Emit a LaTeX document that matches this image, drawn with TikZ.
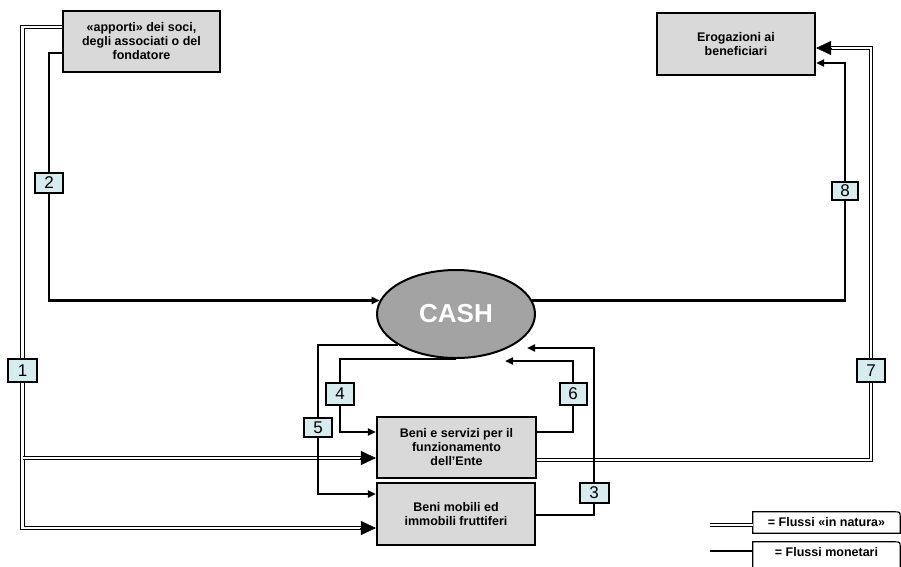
\documentclass[tikz,border=0pt]{standalone}
\usepackage{fontspec}
\setmainfont{Liberation Sans}
\usetikzlibrary{arrows.meta,shapes.geometric}
\definecolor{boxgray}{RGB}{217,217,217}
\definecolor{numcyan}{RGB}{214,236,238}
\definecolor{cashgray}{RGB}{163,163,163}
\begin{document}
\begin{tikzpicture}[x=1pt,y=-1pt,
 box/.style={draw, line width=2.2pt, fill=boxgray, inner sep=0pt, align=center, font=\fontsize{12.5}{14}\selectfont\bfseries},
 num/.style={draw, line width=2pt, fill=numcyan, inner sep=0pt, minimum width=28pt, minimum height=21pt, font=\fontsize{17}{17}\selectfont},
 mono/.style={line width=2.2pt},
 monoarr/.style={line width=2.2pt, -{Triangle[length=8pt,width=7pt]}},
 dbl/.style={double, double distance=2.4pt, line width=1.2pt},
 bigarr/.style={line width=0.5pt, -{Triangle[length=15pt,width=14pt]}},
 legtext/.style={inner sep=0pt, minimum width=147pt, minimum height=21pt, font=\fontsize{12.5}{13}\selectfont\bfseries},
 legline/.style={line width=1.2pt}
]
\useasboundingbox (0,0) rectangle (901,566);

% main boxes
\node[box, minimum width=157pt, minimum height=61pt] (apporti) at (141.5,41.5) {«apporti» dei soci,\\degli associati o del\\fondatore};
\node[box, minimum width=158pt, minimum height=62pt] (erog) at (736,44) {Erogazioni ai\\beneficiari};
\node[ellipse, draw, line width=2pt, fill=cashgray, minimum width=158pt, minimum height=88pt, inner sep=0pt, font=\fontsize{26}{26}\selectfont\bfseries, text=white] (cash) at (456,314) {CASH};
\node[box, minimum width=159pt, minimum height=61pt] (servizi) at (456.5,447.5) {Beni e servizi per il\\funzionamento\\dell’Ente};
\node[box, minimum width=158pt, minimum height=62pt] (mobili) at (456,514) {Beni mobili ed\\immobili fruttiferi};

% number boxes
\node[num, minimum width=29pt, minimum height=23pt] (n1) at (22.5,370.5) {1};
\node[num, minimum height=20pt] (n2) at (49,183) {2};
\node[num, minimum width=29pt, minimum height=20pt] (n3) at (594,493) {3};
\node[num, minimum height=22pt] (n4) at (340,394) {4};
\node[num, minimum height=19pt] (n5) at (318,427.5) {5};
\node[num, minimum width=27pt, minimum height=22pt] (n6) at (573,394) {6};
\node[num, minimum height=23pt] (n7) at (871,370.5) {7};
\node[num, minimum width=26pt, minimum height=18pt] (n8) at (845,191) {8};

% flow 1 (in natura)
\draw[dbl] ([yshift=14.5pt]apporti.west) -| (n1.north);
\coordinate (m1) at ([xshift=-14pt,yshift=-14pt]mobili.west);
\coordinate (s1) at ([xshift=-14pt,yshift=-10.5pt]servizi.west);
\draw[dbl] (n1.south) |- (m1);
\draw[dbl] (n1.south |- s1) -- (s1);
\draw[bigarr] ([xshift=-16pt,yshift=-14pt]mobili.west) -- ([yshift=-14pt]mobili.west);
\draw[bigarr] ([xshift=-16pt,yshift=-10.5pt]servizi.west) -- ([yshift=-10.5pt]servizi.west);

% flow 2
\draw[mono] ([yshift=-11.5pt]apporti.west) -| (n2.north);
\draw[monoarr] (n2.south) |- (cash.170);

% flow 8
\draw[mono] (cash.10) -| (n8.south);
\draw[monoarr] (n8.north) |- ([yshift=-19pt]erog.east);

% flow 7 (in natura)
\coordinate (e7) at ([xshift=14pt,yshift=-4pt]erog.east);
\draw[dbl] ([yshift=-12.5pt]servizi.east) -| (n7.south);
\draw[dbl] (n7.north) |- (e7);
\draw[bigarr] ([xshift=16pt,yshift=-4pt]erog.east) -- ([yshift=-4pt]erog.east);

% flow 4
\draw[mono] (cash.south) -| (n4.north);
\draw[monoarr] (n4.south) |- ([yshift=15.5pt]servizi.west);

% flow 5
\draw[mono] (cash.208) -| (n5.north);
\draw[monoarr] (n5.south) |- ([yshift=20pt]mobili.west);

% flow 6
\coordinate (c6) at ([xshift=49pt,yshift=-2pt]cash.south);
\draw[mono] ([yshift=15.5pt]servizi.east) -| (n6.south);
\draw[monoarr] (n6.north) |- (c6);

% flow 3
\coordinate (c3) at ([xshift=71pt,yshift=11pt]cash.south);
\draw[mono] ([yshift=-1pt]mobili.east) -| (n3.south);
\draw[monoarr] (n3.north) |- (c3);

% legend
\node[legtext] (leg1) at (826.5,522.5) {= Flussi «in natura»};
\node[legtext] (leg2) at (826.5,552.5) {= Flussi monetari};
\draw[legline] (leg1.south east) -- (leg1.south west) -- (leg1.north west) -- ([xshift=-6pt]leg1.north east) .. controls (leg1.north east) .. ([yshift=-6pt]leg1.north east) -- cycle;
\draw[legline] ([yshift=-12pt]leg2.south west) -- (leg2.north west) -- ([xshift=-6pt]leg2.north east) .. controls (leg2.north east) .. ([yshift=-6pt]leg2.north east) -- ([yshift=-12pt]leg2.south east);
\coordinate (l1) at (710,525);
\coordinate (l2) at (710,551);
\draw[dbl] (l1) -- (l1 -| leg1.west);
\draw[mono] (l2) -- (l2 -| leg2.west);
\end{tikzpicture}
\end{document}
